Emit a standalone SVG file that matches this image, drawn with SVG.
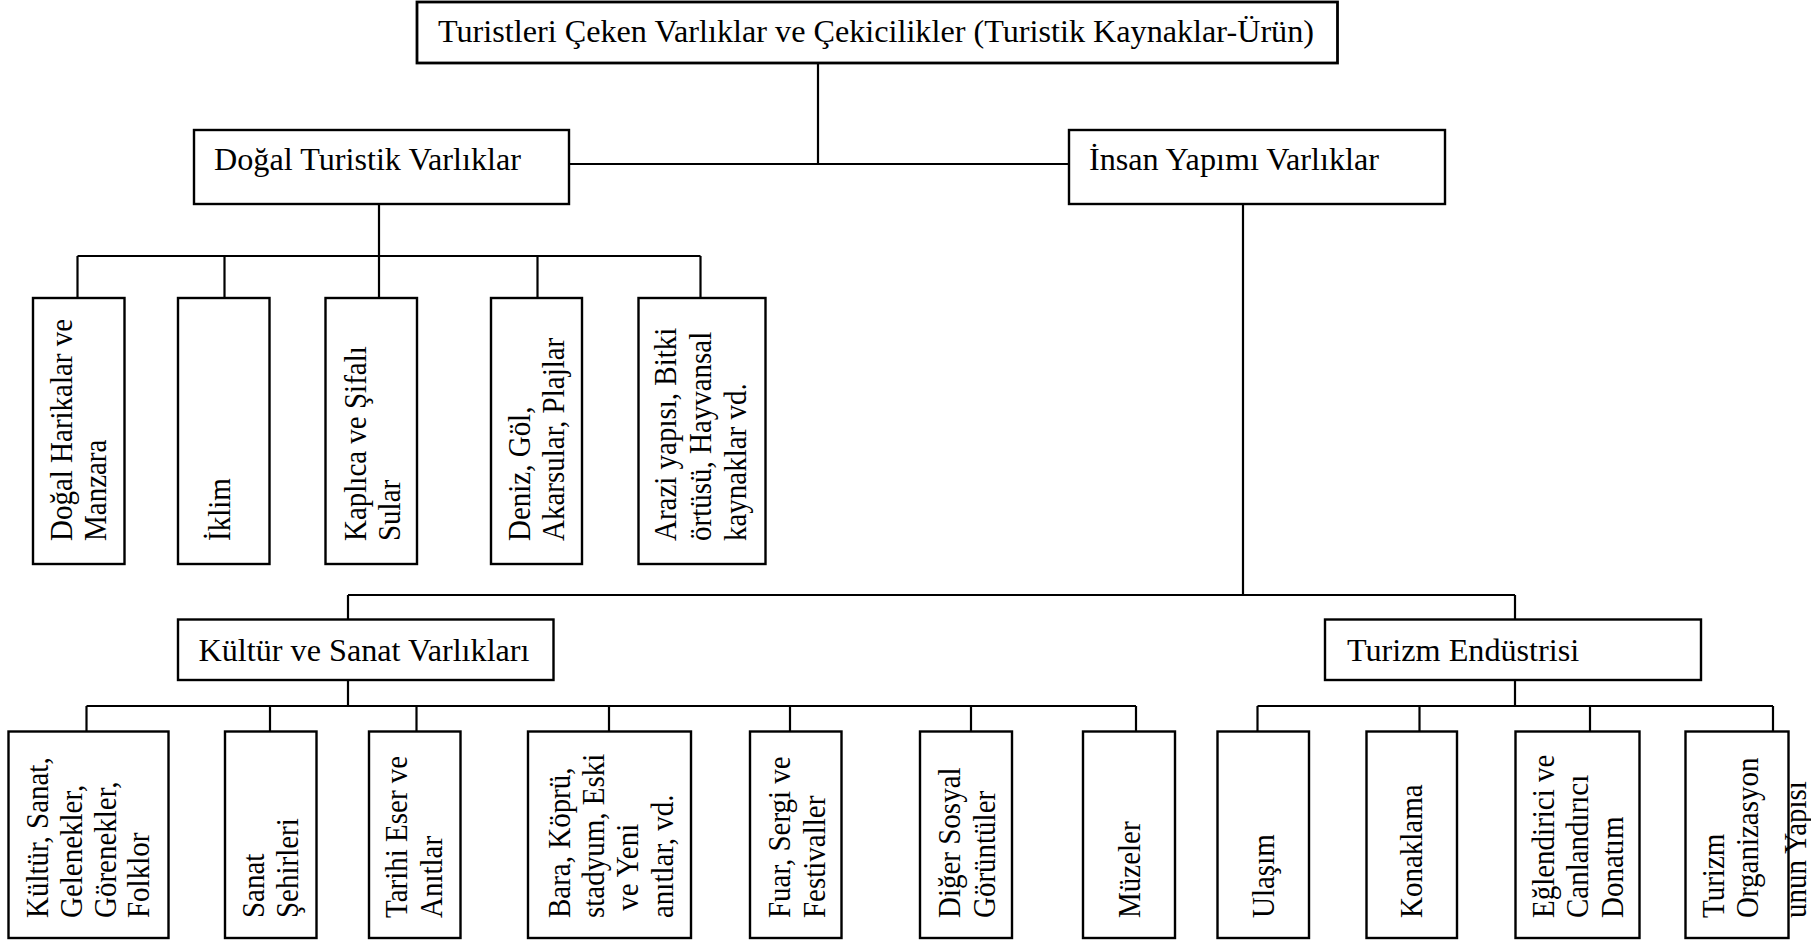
<svg xmlns="http://www.w3.org/2000/svg" width="1811" height="941" viewBox="0 0 1811 941">
  <style>
    .box { fill: #ffffff; stroke: #000000; stroke-width: 2.4; }
    .root { stroke-width: 2.8; }
    .lbl { font-family: "Liberation Serif", "Times New Roman", serif; font-size: 32.2px; fill: #000000; }
    .vl { font-family: "Liberation Serif", "Times New Roman", serif; font-size: 29px; fill: #000000; }
    .wire { fill: none; stroke: #000000; stroke-width: 2.2; }
  </style>
  <rect width="1811" height="941" fill="#ffffff"/>

  <!-- connectors -->
  <g id="connectors" class="wire">
    <path d="M818,63 V164 M569,164 H1069"/>
    <path d="M379,204 V256 M77.5,256 H700.5 M77.5,256 V298 M224.5,256 V298 M379,256 V298 M537.5,256 V298 M700.5,256 V298"/>
    <path d="M1243,204 V595 M348,595 H1515 M348,595 V619.5 M1515,595 V619.5"/>
    <path d="M348,680 V706 M86.5,706 H1136 M86.5,706 V731.5 M270,706 V731.5 M416.5,706 V731.5 M609,706 V731.5 M790,706 V731.5 M971,706 V731.5 M1136,706 V731.5"/>
    <path d="M1515,680 V706 M1257.5,706 H1773 M1257.5,706 V731.5 M1419.5,706 V731.5 M1590,706 V731.5 M1773,706 V731.5"/>
  </g>

  <!-- level 0 -->
  <g id="root">
    <rect class="box root" x="417" y="2" width="920.5" height="61"/>
    <text class="lbl" x="438" y="42">Turistleri Çeken Varlıklar ve Çekicilikler (Turistik Kaynaklar-Ürün)</text>
  </g>

  <!-- level 1 -->
  <g id="dogal">
    <rect class="box" x="194" y="130" width="375" height="74"/>
    <text class="lbl" x="214" y="170">Doğal Turistik Varlıklar</text>
  </g>
  <g id="insan">
    <rect class="box" x="1069" y="130" width="376" height="74"/>
    <text class="lbl" x="1089" y="170">İnsan Yapımı Varlıklar</text>
  </g>

  <!-- natural assets; vertical labels are widened across the line direction -->
  <g id="dogal-harikalar">
    <rect class="box" x="33" y="298" width="91.5" height="266"/>
    <text class="vl" transform="translate(71.5,541) rotate(-90) scale(1,1.1)"><tspan x="0" y="0">Doğal Harikalar ve</tspan><tspan x="0" y="31.8">Manzara</tspan></text>
  </g>
  <g id="iklim">
    <rect class="box" x="178" y="298" width="91.5" height="266"/>
    <text class="vl" transform="translate(230,541) rotate(-90) scale(1,1.1)">İklim</text>
  </g>
  <g id="kaplica">
    <rect class="box" x="325.5" y="298" width="91.5" height="266"/>
    <text class="vl" transform="translate(365.5,541) rotate(-90) scale(1,1.1)"><tspan x="0" y="0">Kaplıca ve Şifalı</tspan><tspan x="0" y="31.8">Sular</tspan></text>
  </g>
  <g id="deniz">
    <rect class="box" x="491" y="298" width="91" height="266"/>
    <text class="vl" transform="translate(530,541) rotate(-90) scale(1,1.1)"><tspan x="0" y="0">Deniz, Göl,</tspan><tspan x="0" y="30.9">Akarsular, Plajlar</tspan></text>
  </g>
  <g id="arazi">
    <rect class="box" x="638.5" y="298" width="127" height="266"/>
    <text class="vl" transform="translate(675.5,541) rotate(-90) scale(1,1.1)"><tspan x="0" y="0">Arazi yapısı, Bitki</tspan><tspan x="0" y="32.3">örtüsü, Hayvansal</tspan><tspan x="0" y="64.5">kaynaklar vd.</tspan></text>
  </g>

  <!-- level 2 -->
  <g id="kultur-sanat">
    <rect class="box" x="178" y="619.5" width="375.5" height="60.5"/>
    <text class="lbl" x="198.5" y="661">Kültür ve Sanat Varlıkları</text>
  </g>
  <g id="turizm-endustrisi">
    <rect class="box" x="1325" y="619.5" width="376" height="60.5"/>
    <text class="lbl" x="1347" y="661">Turizm Endüstrisi</text>
  </g>

  <!-- cultural assets -->
  <g id="folklor">
    <rect class="box" x="8.5" y="731.5" width="160" height="206.5"/>
    <text class="vl" transform="translate(48,918) rotate(-90) scale(1,1.1)"><tspan x="0" y="0">Kültür, Sanat,</tspan><tspan x="0" y="30.9">Gelenekler,</tspan><tspan x="0" y="61.8">Görenekler,</tspan><tspan x="0" y="91.8">Folklor</tspan></text>
  </g>
  <g id="sanat-sehirleri">
    <rect class="box" x="225" y="731.5" width="91.5" height="206.5"/>
    <text class="vl" transform="translate(263.5,918) rotate(-90) scale(1,1.1)"><tspan x="0" y="0">Sanat</tspan><tspan x="0" y="31.8">Şehirleri</tspan></text>
  </g>
  <g id="tarihi-eser">
    <rect class="box" x="369" y="731.5" width="91.5" height="206.5"/>
    <text class="vl" transform="translate(407,918) rotate(-90) scale(1,1.1)"><tspan x="0" y="0">Tarihi Eser ve</tspan><tspan x="0" y="31.8">Anıtlar</tspan></text>
  </g>
  <g id="bara-kopru">
    <rect class="box" x="528" y="731.5" width="163" height="206.5"/>
    <text class="vl" transform="translate(569.5,918) rotate(-90) scale(1,1.1)"><tspan x="0" y="0">Bara, Köprü,</tspan><tspan x="0" y="31.4">stadyum, Eski</tspan><tspan x="0" y="62.7"> ve Yeni</tspan><tspan x="0" y="94.1">anıtlar, vd.</tspan></text>
  </g>
  <g id="fuar">
    <rect class="box" x="750" y="731.5" width="91.5" height="206.5"/>
    <text class="vl" transform="translate(790,918) rotate(-90) scale(1,1.1)"><tspan x="0" y="0">Fuar, Sergi ve</tspan><tspan x="0" y="31.8">Festivaller</tspan></text>
  </g>
  <g id="diger-sosyal">
    <rect class="box" x="920" y="731.5" width="92" height="206.5"/>
    <text class="vl" transform="translate(960,918) rotate(-90) scale(1,1.1)"><tspan x="0" y="0">Diğer Sosyal</tspan><tspan x="0" y="31.8">Görüntüler</tspan></text>
  </g>
  <g id="muzeler">
    <rect class="box" x="1083" y="731.5" width="92" height="206.5"/>
    <text class="vl" transform="translate(1139.5,918) rotate(-90) scale(1,1.1)">Müzeler</text>
  </g>

  <!-- tourism industry -->
  <g id="ulasim">
    <rect class="box" x="1217.5" y="731.5" width="91.5" height="206.5"/>
    <text class="vl" transform="translate(1274,918) rotate(-90) scale(1,1.1)">Ulaşım</text>
  </g>
  <g id="konaklama">
    <rect class="box" x="1366.5" y="731.5" width="90.5" height="206.5"/>
    <text class="vl" transform="translate(1422,918) rotate(-90) scale(1,1.1)">Konaklama</text>
  </g>
  <g id="donatim">
    <rect class="box" x="1515.5" y="731.5" width="124" height="206.5"/>
    <text class="vl" transform="translate(1553.5,918) rotate(-90) scale(1,1.1)"><tspan x="0" y="0">Eğlendirici ve</tspan><tspan x="0" y="31.8">Canlandırıcı</tspan><tspan x="0" y="63.6">Donatım</tspan></text>
  </g>
  <g id="organizasyon">
    <rect class="box" x="1685.5" y="731.5" width="103" height="206.5"/>
    <text class="vl" transform="translate(1723.5,918) rotate(-90) scale(1,1.1)"><tspan x="0" y="0">Turizm</tspan><tspan x="0" y="31.8">Organizasyon</tspan><tspan x="0" y="75">unun Yapısı</tspan></text>
  </g>
</svg>
